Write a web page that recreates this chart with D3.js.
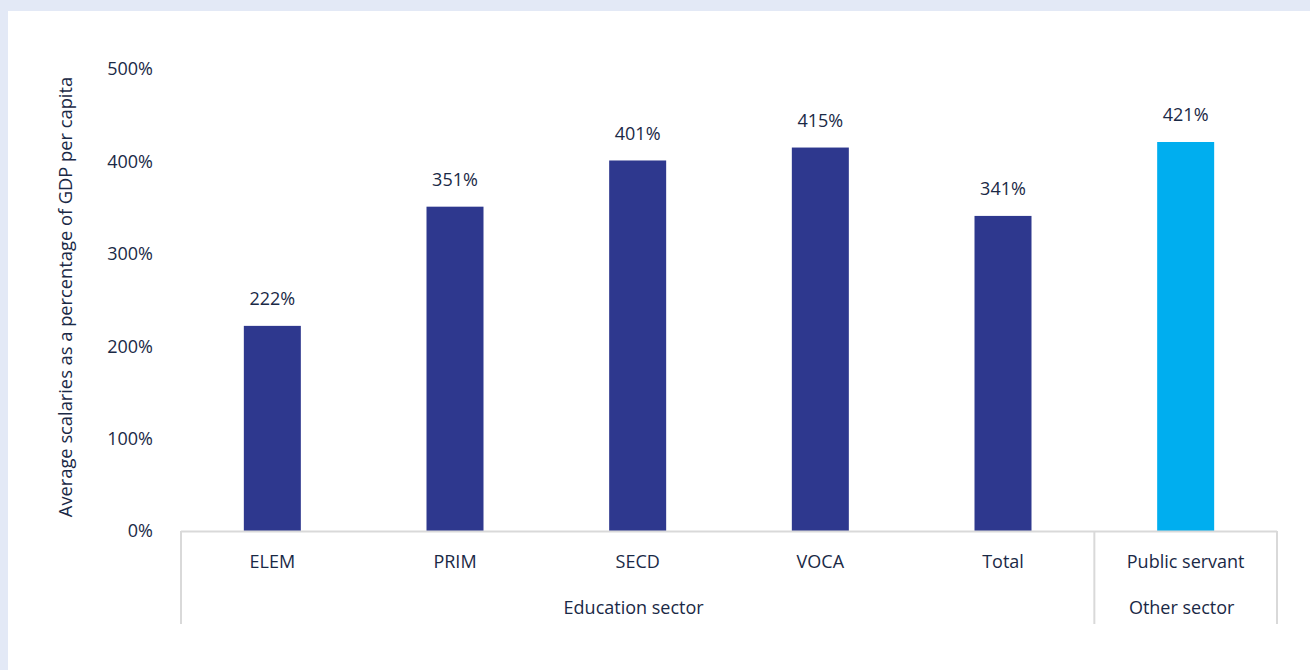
<!DOCTYPE html>
<html>
<head>
<meta charset="utf-8">
<script src="https://cdn.jsdelivr.net/npm/d3@7"></script>
<style>
  html, body { margin: 0; padding: 0; background: #e3e9f6; }
  svg { display: block; }
  text { font-family: "Open Sans", sans-serif; fill: #1a2946; }
</style>
</head>
<body>
<svg id="chart" width="1310" height="670"></svg>
<script>
// Average salaries relative to GDP per capita, by sector
const categories = ["ELEM", "PRIM", "SECD", "VOCA", "Total", "Public servant"];
const values = [222, 351, 401, 415, 341, 421];
const groups = ["Education sector", "Education sector", "Education sector", "Education sector", "Education sector", "Other sector"];
const groupNames = ["Education sector", "Other sector"];
const yTicks = [0, 100, 200, 300, 400, 500];
const barColors = ["#2e388e", "#2e388e", "#2e388e", "#2e388e", "#2e388e", "#00aeef"];

const svg = d3.select("#chart");
const fs = 18;

// white card
svg.append("rect").attr("x", 8).attr("y", 11).attr("width", 1302).attr("height", 659).attr("fill", "#ffffff");

const plotLeft = 181, plotRight = 1277, plotTop = 69, plotBottom = 531;

const x = d3.scaleBand().domain(categories).range([plotLeft, plotRight]).paddingInner(0).paddingOuter(0);
const y = d3.scaleLinear().domain([0, 500]).range([plotBottom, plotTop]);

// y tick labels
svg.append("g").selectAll("text").data(yTicks).join("text")
  .attr("x", 153).attr("y", d => y(d)).attr("dy", "0.35em")
  .attr("text-anchor", "end").attr("font-size", fs)
  .text(d => d + "%");

// y axis title
svg.append("text")
  .attr("transform", "translate(72, 297) rotate(-90)")
  .attr("text-anchor", "middle").attr("font-size", 18.3)
  .text("Average scalaries as a percentage of GDP per capita");

// bars
const barW = 57;
svg.append("g").selectAll("rect").data(categories).join("rect")
  .attr("x", d => x(d) + x.bandwidth() / 2 - barW / 2)
  .attr("y", (d, i) => y(values[i]))
  .attr("width", barW)
  .attr("height", (d, i) => plotBottom - y(values[i]))
  .attr("fill", (d, i) => barColors[i]);

// value labels
svg.append("g").selectAll("text").data(categories).join("text")
  .attr("x", d => x(d) + x.bandwidth() / 2)
  .attr("y", (d, i) => y(values[i]) - 27)
  .attr("dy", "0.35em")
  .attr("text-anchor", "middle").attr("font-size", fs)
  .text((d, i) => values[i] + "%");

// baseline
const axisColor = "#d9d9d9";
svg.append("line").attr("x1", plotLeft).attr("x2", plotRight).attr("y1", plotBottom + 0.5).attr("y2", plotBottom + 0.5)
  .attr("stroke", axisColor).attr("stroke-width", 2);

// category labels
svg.append("g").selectAll("text").data(categories).join("text")
  .attr("x", d => x(d) + x.bandwidth() / 2)
  .attr("y", 562).attr("dy", "0.35em")
  .attr("text-anchor", "middle").attr("font-size", fs)
  .text(d => d);

// group spans and separators
const groupSpans = groupNames.map(g => {
  const members = categories.filter((c, i) => groups[i] === g);
  return { name: g, x0: x(members[0]), x1: x(members[members.length - 1]) + x.bandwidth() };
});
const seps = [plotLeft].concat(groupSpans.map(s => s.x1));
svg.append("g").selectAll("line").data(seps).join("line")
  .attr("x1", d => d).attr("x2", d => d)
  .attr("y1", plotBottom).attr("y2", 624)
  .attr("stroke", axisColor).attr("stroke-width", 2);

svg.append("g").selectAll("text").data(groupSpans).join("text")
  .attr("x", d => (d.x0 + d.x1) / 2 - 4)
  .attr("y", 608).attr("dy", "0.35em")
  .attr("text-anchor", "middle").attr("font-size", fs)
  .text(d => d.name);
</script>
</body>
</html>
